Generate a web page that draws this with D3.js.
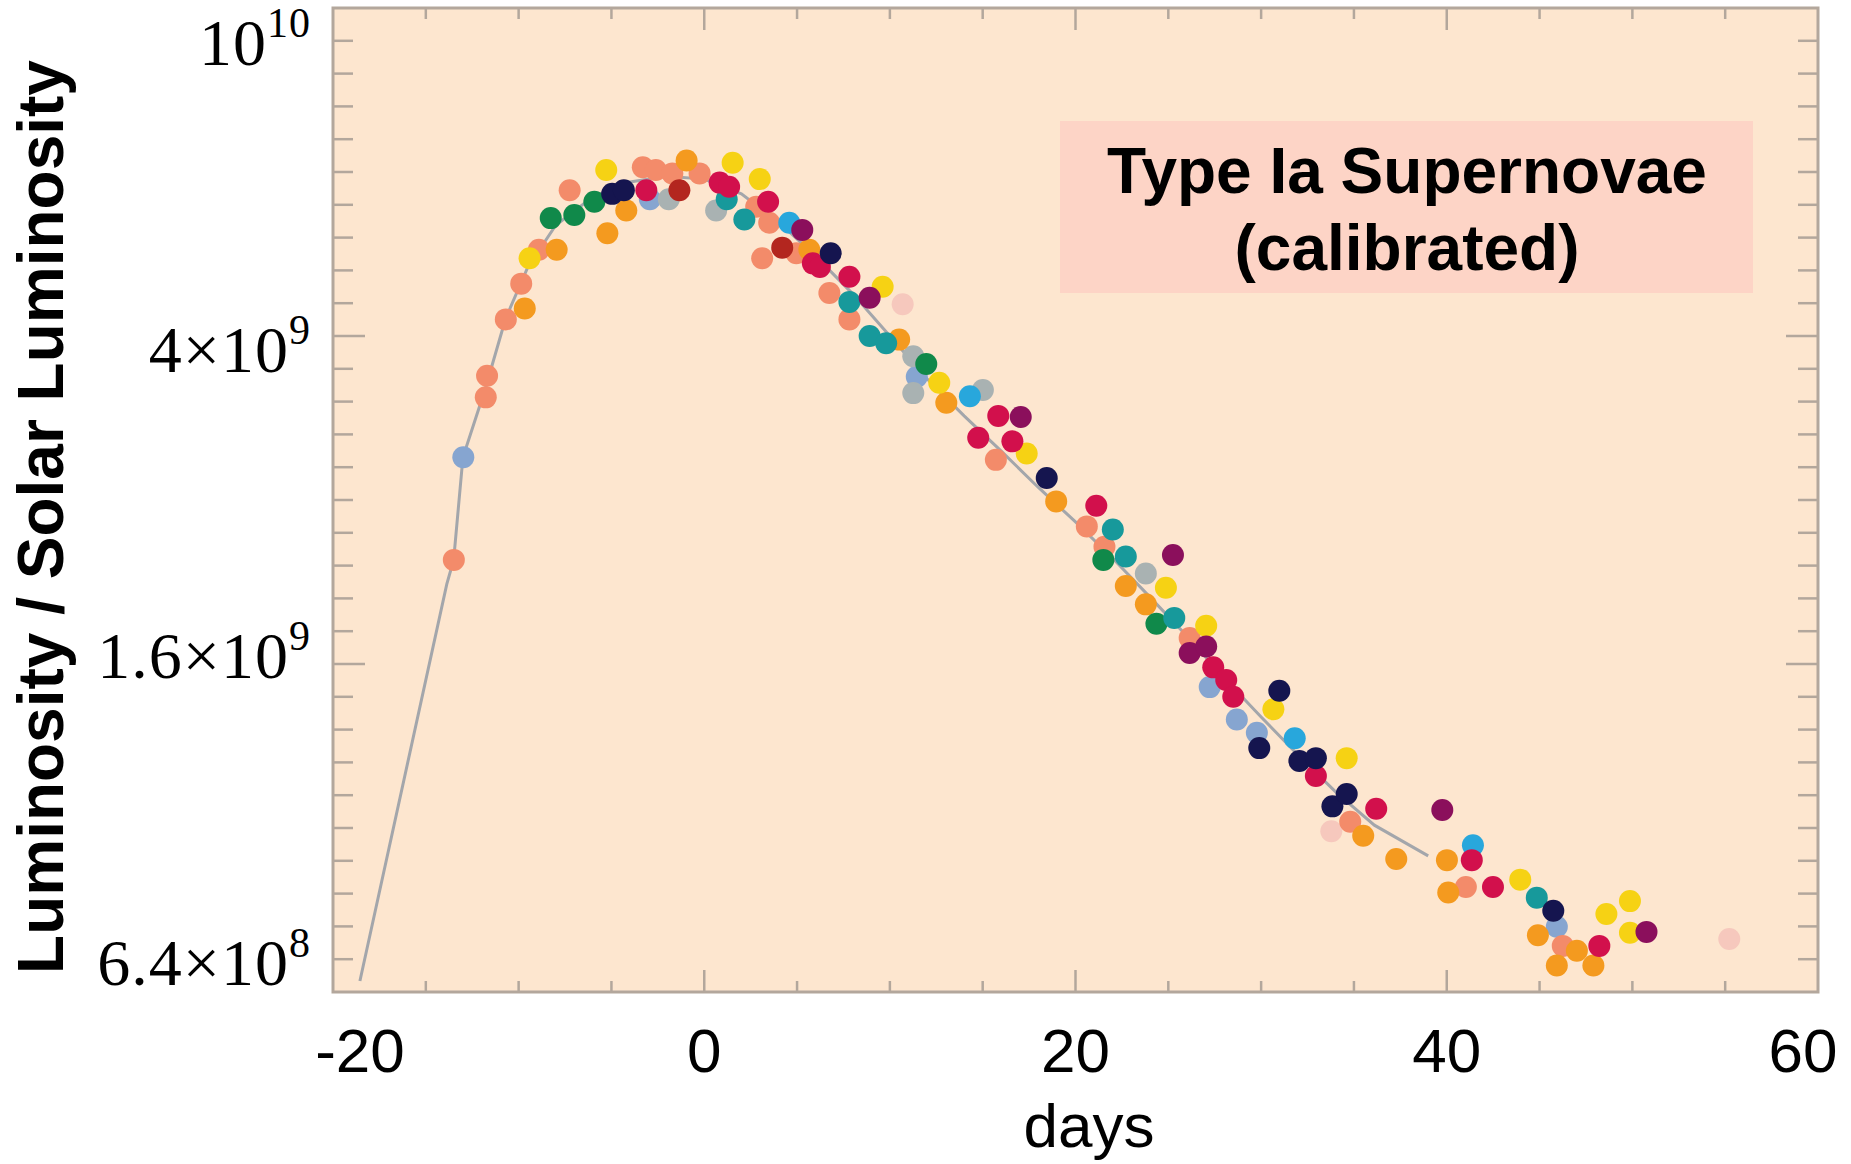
<!DOCTYPE html>
<html>
<head>
<meta charset="utf-8">
<script src="https://cdn.jsdelivr.net/npm/d3@7"></script>
<style>
    body {margin: 0; background: #fff;}
</style>
</head>
<body>
<svg id="drawingSpace" width="1851" height="1164"></svg>
<script>
//light curves of calibrated type Ia supernovae, one array per supernova (colour)
//values are [days from maximum, luminosity in units of 10^9 solar luminosities]
var salmonPts = [[-13.49, 2.14], [-11.7, 3.58], [-11.77, 3.37], [-10.69, 4.19], [-9.86, 4.63], [-8.91, 5.09], [-7.25, 6.01],
    [-3.31, 6.41], [-2.61, 6.36], [-1.72, 6.30], [-0.25, 6.30], [2.80, 5.74], [3.50, 5.49], [3.12, 4.97], [4.96, 5.04],
    [6.74, 4.51], [7.82, 4.19], [15.71, 2.83], [20.61, 2.35], [21.56, 2.22], [26.15, 1.72], [34.80, 1.03], [41.03, 0.858], [46.25, 0.728]];
var orangePts = [[-9.67, 4.32], [-7.95, 5.09], [-4.20, 5.68], [-5.22, 5.33], [-0.95, 6.53], [5.66, 5.09], [10.50, 3.96],
    [13.04, 3.32], [18.96, 2.52], [22.71, 1.99], [23.79, 1.89], [35.50, 0.99], [37.28, 0.928], [40.08, 0.845], [40.01, 0.925],
    [44.91, 0.750], [45.93, 0.689], [47.01, 0.718], [47.90, 0.689]];
var yellowPts = [[-9.41, 4.97], [-5.28, 6.36], [1.53, 6.49], [2.99, 6.20], [9.61, 4.59], [12.66, 3.51], [17.37, 2.88],
    [24.87, 1.98], [27.04, 1.78], [30.66, 1.41], [34.61, 1.23], [43.96, 0.876], [48.60, 0.796], [49.87, 0.825], [49.87, 0.755]];
var greenPts = [[-8.27, 5.56], [-7.00, 5.61], [-5.92, 5.82], [11.96, 3.70], [21.50, 2.14], [24.36, 1.79]];
var navyPts = [[-4.96, 5.95], [-4.33, 6.01], [6.81, 5.04], [18.45, 2.69], [29.90, 1.265], [30.98, 1.485], [32.06, 1.22],
    [32.95, 1.23], [33.84, 1.075], [34.61, 1.113], [45.74, 0.803]];
var crimsonPts = [[-3.12, 6.01], [0.83, 6.14], [1.34, 6.07], [3.44, 5.82], [5.85, 4.90], [6.23, 4.85], [7.82, 4.72],
    [14.76, 3.01], [15.84, 3.20], [16.60, 2.98], [21.12, 2.49], [27.42, 1.585], [28.12, 1.53], [28.50, 1.46], [32.95, 1.17],
    [36.20, 1.068], [41.35, 0.925], [42.49, 0.858], [48.22, 0.728]];
var purplePts = [[5.28, 5.38], [8.91, 4.45], [17.05, 3.19], [25.25, 2.17], [26.15, 1.65], [27.04, 1.68], [39.76, 1.064], [50.76, 0.757]];
var tealPts = [[1.21, 5.86], [2.16, 5.54], [7.82, 4.40], [8.91, 4.00], [9.80, 3.92], [22.01, 2.33], [22.71, 2.16], [25.32, 1.82], [44.85, 0.833]];
var cyanPts = [[4.58, 5.49], [14.31, 3.38], [31.81, 1.30], [41.41, 0.964]];
var greyPts = [[-1.91, 5.86], [0.64, 5.68], [11.26, 3.78], [11.26, 3.41], [15.01, 3.44], [23.79, 2.06]];
var steelPts = [[-12.98, 2.85], [-2.93, 5.86], [11.45, 3.57], [27.23, 1.50], [28.69, 1.37], [29.77, 1.32], [45.93, 0.768]];
var brownPts = [[-1.34, 6.01], [4.20, 5.12]];
var pinkPts = [[10.69, 4.37], [33.78, 1.003], [55.22, 0.742]];

//template light curve drawn behind the points
var templateDays = [-18.55, -13.87, -13.5, -13.0, -11.8, -10.7, -9.5, -8, -6, -4, -2, 0, 2, 4, 6, 8, 10, 12, 14, 16, 18, 20,
    22, 24, 26, 28, 30, 32, 34, 36.1, 39.0];
var templateLum = [0.66, 2.0, 2.14, 2.85, 3.45, 4.2, 4.85, 5.45, 5.9, 6.15, 6.25, 6.2, 5.95, 5.5, 5.0, 4.5, 4.0, 3.55,
    3.2, 2.9, 2.62, 2.38, 2.15, 1.93, 1.73, 1.54, 1.38, 1.24, 1.12, 1.02, 0.936];

//axis labels
var xTickValues = [-20, 0, 20, 40, 60];
var xTickLabels = ["-20", "0", "20", "40", "60"];
var yLabelValues = [10, 4, 1.6, 0.64];
var yLabelMantissa = ["10", "4\u00d710", "1.6\u00d710", "6.4\u00d710"];
var yLabelExponent = ["10", "9", "9", "8"];

var series = [
    {pts: steelPts, color: "#86a5d0"},
    {pts: greyPts, color: "#a9b2b2"},
    {pts: pinkPts, color: "#f6c8bd"},
    {pts: salmonPts, color: "#f38b6a"},
    {pts: orangePts, color: "#f49a1f"},
    {pts: yellowPts, color: "#f6d214"},
    {pts: greenPts, color: "#10894a"},
    {pts: tealPts, color: "#17999b"},
    {pts: cyanPts, color: "#28a7dc"},
    {pts: brownPts, color: "#b3261f"},
    {pts: purplePts, color: "#8b0f5c"},
    {pts: crimsonPts, color: "#d2104c"},
    {pts: navyPts, color: "#15154f"}
];

//set up drawing space
var svg = d3.select("#drawingSpace"),
    frame = {left: 333, right: 1818, top: 8, bottom: 992},
    frameColor = "#b3a79c";

var x = d3.scaleLinear().domain([-20, 60]).range([frame.left, frame.right]);
var y = d3.scaleLog().domain([0.64, 10]).range([frame.bottom, frame.top]);
//the luminosity labels sit a little off their ticks in the original
var yLabelPos = d3.scaleLog().domain([0.64, 10]).range([985, 65]);

var chart = svg.append("g").attr("class", "chartLayer");

//plot background
chart.append("rect")
    .attr("x", frame.left).attr("y", frame.top)
    .attr("width", frame.right - frame.left).attr("height", frame.bottom - frame.top)
    .attr("fill", "#fde6cf");

//title box
chart.append("rect")
    .attr("x", 1060).attr("y", 121).attr("width", 693).attr("height", 172)
    .attr("fill", "#fdd4c6");
chart.append("text")
    .attr("x", 1407).attr("y", 193)
    .attr("text-anchor", "middle")
    .style("font", "bold 64px 'Liberation Sans', Arial, sans-serif")
    .text("Type Ia Supernovae");
chart.append("text")
    .attr("x", 1407).attr("y", 270)
    .attr("text-anchor", "middle")
    .style("font", "bold 64px 'Liberation Sans', Arial, sans-serif")
    .text("(calibrated)");

//template curve
var template = templateDays.map(function (d, i) {
    return [d, templateLum[i]];
});
chart.append("path")
    .datum(template)
    .attr("fill", "none")
    .attr("stroke", "#a3a6ab")
    .attr("stroke-width", 3)
    .attr("d", d3.line().x(function (d) {
        return x(d[0]);
    }).y(function (d) {
        return y(d[1]);
    }));

//points
series.forEach(function (s) {
    chart.append("g").selectAll("circle")
        .data(s.pts)
        .enter().append("circle")
        .attr("cx", function (d) {
            return x(d[0]);
        })
        .attr("cy", function (d) {
            return y(d[1]);
        })
        .attr("r", 11)
        .attr("fill", s.color);
});

//ticks on all four sides, pointing inwards
var xTicks = d3.range(-15, 60, 5);
var axisG = chart.append("g").attr("stroke", frameColor).attr("stroke-width", 2.5);
xTicks.forEach(function (d) {
    var len = d % 20 === 0 ? 22 : 11;
    axisG.append("line").attr("x1", x(d)).attr("x2", x(d)).attr("y1", frame.bottom).attr("y2", frame.bottom - len);
    axisG.append("line").attr("x1", x(d)).attr("x2", x(d)).attr("y1", frame.top).attr("y2", frame.top + len);
});
var yTicks = d3.range(-19, 10).map(function (k) {
    return {v: 4 * Math.pow(2.5, k / 10), major: k % 10 === 0};
});
yTicks.forEach(function (t) {
    var len = t.major ? 32 : 20;
    axisG.append("line").attr("x1", frame.left).attr("x2", frame.left + len).attr("y1", y(t.v)).attr("y2", y(t.v));
    axisG.append("line").attr("x1", frame.right).attr("x2", frame.right - len).attr("y1", y(t.v)).attr("y2", y(t.v));
});

//frame
chart.append("rect")
    .attr("x", frame.left).attr("y", frame.top)
    .attr("width", frame.right - frame.left).attr("height", frame.bottom - frame.top)
    .attr("fill", "none")
    .attr("stroke", frameColor)
    .attr("stroke-width", 3);

//x tick labels
chart.append("g").selectAll("text")
    .data(xTickValues)
    .enter().append("text")
    .attr("x", function (d) {
        return Math.min(Math.max(x(d), 360), 1803);
    })
    .attr("y", 1072)
    .attr("text-anchor", "middle")
    .style("font", "62px 'Liberation Sans', Arial, sans-serif")
    .text(function (d, i) {
        return xTickLabels[i];
    });

//y tick labels
var yl = chart.append("g").selectAll("text")
    .data(yLabelValues)
    .enter().append("text")
    .attr("x", 311)
    .attr("y", function (d) {
        return yLabelPos(d);
    })
    .attr("text-anchor", "end")
    .style("font", "66px 'Liberation Serif', 'Times New Roman', serif")
    .style("letter-spacing", "1px");
yl.append("tspan").text(function (d, i) {
    return yLabelMantissa[i];
});
yl.append("tspan")
    .attr("dy", -28)
    .style("font-size", "42px")
    .text(function (d, i) {
        return yLabelExponent[i];
    });

//axis titles
chart.append("text")
    .attr("x", 1089).attr("y", 1147)
    .attr("text-anchor", "middle")
    .style("font", "62px 'Liberation Sans', Arial, sans-serif")
    .text("days");
chart.append("text")
    .attr("transform", "translate(63,517) rotate(-90)")
    .attr("text-anchor", "middle")
    .style("font", "bold 64px 'Liberation Sans', Arial, sans-serif")
    .text("Luminosity / Solar Luminosity");
</script>
</body>
</html>
